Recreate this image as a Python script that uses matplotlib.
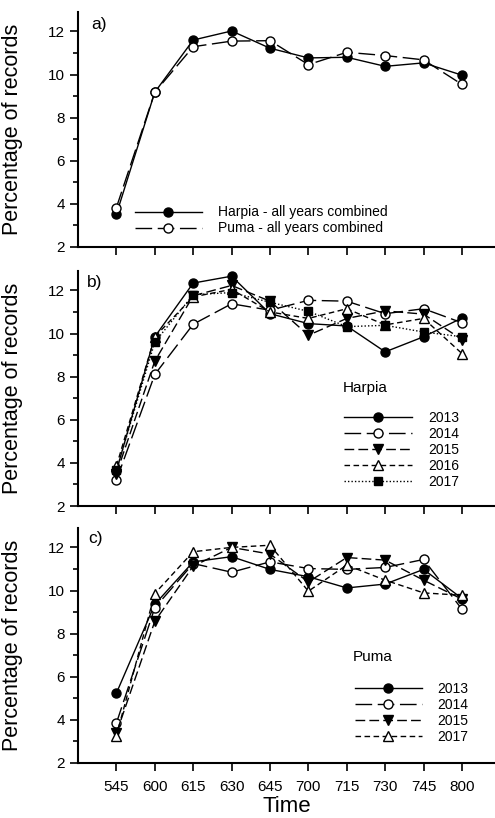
import matplotlib
matplotlib.use("Agg")
import matplotlib.pyplot as plt
import numpy as np

plt.rcParams['font.family'] = ['Liberation Sans', 'DejaVu Sans']

times = ['545', '600', '615', '630', '645', '700', '715', '730', '745', '800']

# panel a - all years combined
harpia_all = [3.52, 9.18, 11.6, 12.02, 11.22, 10.77, 10.8, 10.38, 10.54, 9.97]
puma_all = [3.83, 9.18, 11.29, 11.55, 11.57, 10.46, 11.03, 10.88, 10.68, 9.54]

# panel b - Harpia by year
harpia_2013 = [3.62, 9.85, 12.34, 12.66, 10.92, 10.46, 10.35, 9.15, 9.85, 10.72]
harpia_2014 = [3.2, 8.1, 10.43, 11.38, 11.08, 11.54, 11.5, 10.92, 11.15, 10.5]
harpia_2015 = [3.5, 8.72, 11.75, 12.23, 11.5, 9.92, 10.7, 11.05, 10.9, 9.72]
harpia_2016 = [3.85, 9.85, 11.7, 12.05, 11.0, 10.7, 11.15, 10.4, 10.7, 9.07]
harpia_2017 = [3.65, 9.6, 11.8, 11.9, 11.45, 11.03, 10.32, 10.38, 10.07, 9.85]

# panel c - Puma by year
puma_2013 = [5.24, 9.36, 11.33, 11.57, 10.98, 10.64, 10.12, 10.3, 10.98, 9.63]
puma_2014 = [3.85, 9.2, 11.25, 10.85, 11.33, 11.02, 10.98, 11.07, 11.44, 9.13]
puma_2015 = [3.38, 8.57, 11.13, 12.0, 11.69, 10.4, 11.53, 11.41, 10.48, 9.6]
puma_2017 = [3.27, 9.86, 11.8, 12.0, 12.1, 9.97, 11.18, 10.48, 9.89, 9.78]

x = np.arange(len(times))

solid_dot = dict(ls='-', marker='o', mfc='black', ms=6.5)
long_open = dict(ls=(0, (12, 4)), marker='o', mfc='white', ms=6.5)
dash_down = dict(ls=(0, (7, 3)), marker='v', mfc='black', ms=6.5)
short_up = dict(ls=(0, (4, 2.5)), marker='^', mfc='white', ms=6.5)
dot_square = dict(ls=(0, (1, 1.5)), marker='s', mfc='black', ms=5.5)


def line(ax, y, st, label):
    return ax.plot(x, y, color='black', lw=1.0, mec='black', mew=1.0,
                   label=label, **st)[0]


fig = plt.figure(figsize=(4.95, 8.18), dpi=100)
left, width, height = 78 / 495, 417 / 495, 235 / 818
ax_a = fig.add_axes([left, 1 - 247 / 818, width, height])
ax_b = fig.add_axes([left, 1 - 506 / 818, width, height])
ax_c = fig.add_axes([left, 1 - 763 / 818, width, height])

for ax in (ax_a, ax_b, ax_c):
    ax.set_xlim(-1, 9.86)
    ax.set_ylim(2, 12.9)
    ax.spines['top'].set_visible(False)
    ax.spines['right'].set_visible(False)
    ax.spines['left'].set_linewidth(1.5)
    ax.spines['bottom'].set_linewidth(1.5)
    ax.set_xticks(x)
    ax.set_yticks([2, 4, 6, 8, 10, 12])
    ax.set_yticks([3, 5, 7, 9, 11], minor=True)
    ax.tick_params(axis='both', which='major', direction='out', length=5.5, width=1.2, labelsize=11)
    ax.tick_params(axis='y', which='minor', direction='out', length=3.5, width=1.2)
    ax.tick_params(axis='y', pad=4)
    ax.tick_params(axis='x', pad=7)
    ax.set_ylabel('Percentage of records', fontsize=15.5)
    ax.yaxis.set_label_coords(-0.132, 0.5)

ax_a.set_xticklabels([])
ax_b.set_xticklabels([])
ax_c.set_xticklabels(times)
ax_c.set_xlabel('Time', fontsize=16, labelpad=1)

# a)
h1 = line(ax_a, harpia_all, solid_dot, 'Harpia - all years combined')
h2 = line(ax_a, puma_all, long_open, 'Puma - all years combined')
ax_a.legend(handles=[h1, h2], loc='center left', bbox_to_anchor=(0.137, 0.113),
            frameon=False, handlelength=4.8, handletextpad=1.15, labelspacing=0.15,
            borderpad=0, borderaxespad=0, fontsize=10, numpoints=1)
ax_a.text(0.031, 0.945, 'a)', transform=ax_a.transAxes, fontsize=12.5, va='center')

# b)
hb = []
for yr, vals, st in [('2013', harpia_2013, solid_dot), ('2014', harpia_2014, long_open),
                     ('2015', harpia_2015, dash_down), ('2016', harpia_2016, short_up),
                     ('2017', harpia_2017, dot_square)]:
    hb.append(line(ax_b, vals, st, yr))
ax_b.legend(handles=hb, loc='center left', bbox_to_anchor=(0.638, 0.238),
            frameon=False, handlelength=4.9, handletextpad=1.15, labelspacing=0.15,
            borderpad=0, borderaxespad=0, fontsize=10, numpoints=1)
ax_b.text(0.636, 0.502, 'Harpia', transform=ax_b.transAxes, fontsize=11, va='center')
ax_b.text(0.022, 0.953, 'b)', transform=ax_b.transAxes, fontsize=12.5, va='center')

# c)
hc = []
for yr, vals, st in [('2013', puma_2013, solid_dot), ('2014', puma_2014, long_open),
                     ('2015', puma_2015, dash_down), ('2017', puma_2017, short_up)]:
    hc.append(line(ax_c, vals, st, yr))
ax_c.legend(handles=hc, loc='center left', bbox_to_anchor=(0.664, 0.213),
            frameon=False, handlelength=4.8, handletextpad=1.15, labelspacing=0.15,
            borderpad=0, borderaxespad=0, fontsize=10, numpoints=1)
ax_c.text(0.659, 0.451, 'Puma', transform=ax_c.transAxes, fontsize=11, va='center')
ax_c.text(0.024, 0.957, 'c)', transform=ax_c.transAxes, fontsize=12.5, va='center')

fig.savefig('out.png', dpi=100)
